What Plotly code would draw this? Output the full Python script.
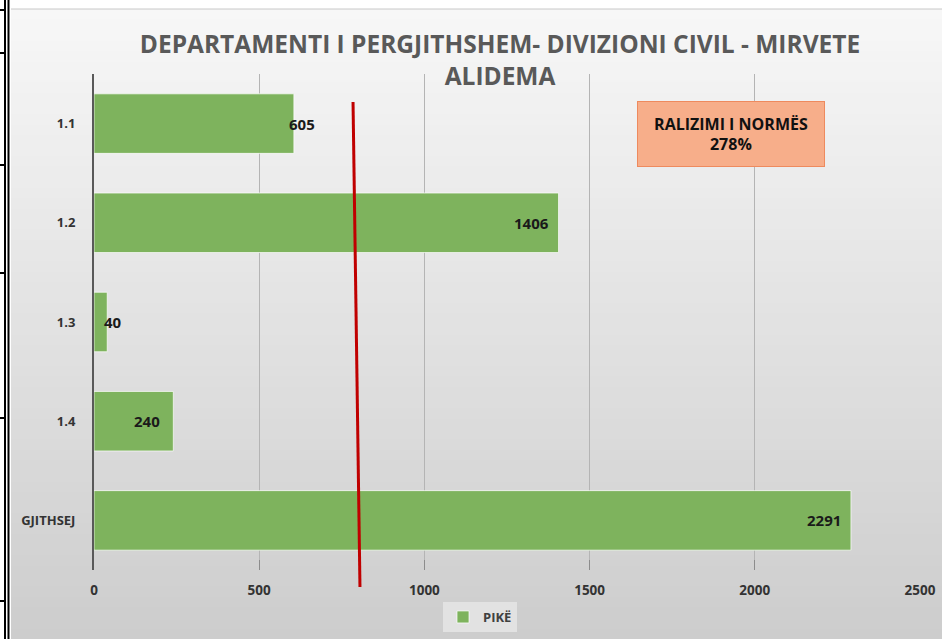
import plotly.graph_objects as go

categories = ["1.1", "1.2", "1.3", "1.4", "GJITHSEJ"]
values = [605, 1406, 40, 240, 2291]
label_shift = [23, -8, 17, -11, -8]
norm_top, norm_bottom = 784, 805
x_ticks = [0, 500, 1000, 1500, 2000, 2500]
title_text = "DEPARTAMENTI I PERGJITHSHEM- DIVIZIONI CIVIL - MIRVETE<br>ALIDEMA"
box_text = "RALIZIMI I NORMËS<br>278%"
series_name = "PIKË"

W, H = 942, 639
L, R, T, B = 94, 22, 74, 69
PW, PH = W - L - R, H - T - B

def px(x):
    return (x - L) / PW

def py(y):
    return (H - B - y) / PH

FONT = "Open Sans"

fig = go.Figure()
fig.add_trace(go.Bar(
    y=categories, x=values, orientation="h", name=series_name,
    marker=dict(color="#7eb35d", line=dict(color="rgba(255,255,255,0.7)", width=1)),
    width=0.6,
))

shapes = []
n = 60
top, bot = 9, 639
c0, c1 = (247, 247, 247), (205, 205, 205)
for i in range(n):
    y0 = top + (bot - top) * i / n
    y1 = top + (bot - top) * (i + 1) / n
    t = i / (n - 1)
    c = tuple(int(round(c0[k] + (c1[k] - c0[k]) * t)) for k in range(3))
    shapes.append(dict(type="rect", xref="paper", yref="paper",
                       x0=px(11), x1=px(W), y0=py(min(y1 + 0.5, H)), y1=py(y0),
                       fillcolor="rgb(%d,%d,%d)" % c, line=dict(width=0), layer="below"))
shapes.append(dict(type="line", xref="paper", yref="paper", x0=px(11), x1=px(W),
                   y0=py(9), y1=py(9), line=dict(color="#c8c8c8", width=1), layer="below"))
for xx in (5, 8.5):
    shapes.append(dict(type="line", xref="paper", yref="paper", x0=px(xx), x1=px(xx),
                       y0=py(0), y1=py(H), line=dict(color="black", width=2)))
for yy in (10, 53, 165, 273, 418, 601):
    shapes.append(dict(type="line", xref="paper", yref="paper", x0=px(0), x1=px(5),
                       y0=py(yy), y1=py(yy), line=dict(color="black", width=2)))
shapes.append(dict(type="line", xref="x", yref="paper", x0=norm_top, x1=norm_bottom,
                   y0=py(102), y1=py(587), line=dict(color="#c00000", width=3)))

annotations = []
for i, (v, s) in enumerate(zip(values, label_shift)):
    annotations.append(dict(x=v, y=i, xref="x", yref="y", text=str(v), showarrow=False,
                            xanchor="right", yanchor="middle", xshift=s,
                            font=dict(family=FONT, size=15, color="#1a1a1a", weight="bold")))
annotations.append(dict(x=px(731), y=py(134), xref="paper", yref="paper", text=box_text,
                        xanchor="center", yanchor="middle",
                        showarrow=False, width=184, height=62, align="center",
                        bgcolor="#f7ae8a", bordercolor="#ee8a5e", borderwidth=1,
                        font=dict(family=FONT, size=16, color="#111111", weight="bold")))

fig.update_layout(
    width=W, height=H,
    margin=dict(l=L, r=R, t=T, b=B, autoexpand=False),
    paper_bgcolor="white", plot_bgcolor="rgba(0,0,0,0)",
    title=dict(text=title_text, x=500 / W, xanchor="center", y=1 - 53 / H, yanchor="middle",
               font=dict(family=FONT, size=24.5, color="#595959", weight="bold")),
    xaxis=dict(range=[0, 2500], tickvals=x_ticks, showgrid=True, gridcolor="#b4b4b4",
               gridwidth=1, zeroline=False, ticks="inside", ticklen=10, tickcolor="#8c8c8c",
               ticklabelstandoff=10,
               tickfont=dict(family=FONT, size=13.5, color="#333333", weight="bold"),
               showline=False, fixedrange=True, automargin=False),
    yaxis=dict(type="category", autorange="reversed", showline=True, linecolor="#595959",
               linewidth=2, ticks="", ticklabelstandoff=14,
               tickfont=dict(family=FONT, size=13, color="#333333", weight="bold"),
               showgrid=False, fixedrange=True, automargin=False),
    showlegend=True,
    legend=dict(orientation="h", x=px(480), xanchor="center", yref="container",
                y=(H - 617) / H, yanchor="middle",
                bgcolor="#e2e2e2", font=dict(family=FONT, size=13, color="#404040", weight="bold")),
    bargap=0.4,
    shapes=shapes,
    annotations=annotations,
)

fig.write_html(
    "out.html",
    config={"displayModeBar": False},
    post_script=("document.body.style.margin='0';"
                 "document.body.style.overflow='hidden';"
                 "document.documentElement.style.overflow='hidden';"),
)
